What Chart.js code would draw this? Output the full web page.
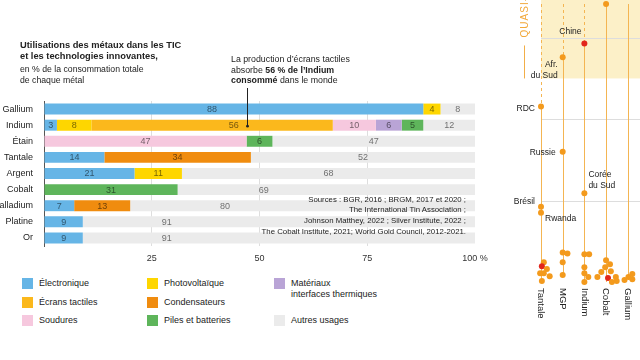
<!DOCTYPE html>
<html><head><meta charset="utf-8">
<script src="https://cdn.jsdelivr.net/npm/chart.js@4.4.1/dist/chart.umd.min.js"></script>
<style>
html,body{margin:0;padding:0;background:#fff;}
body{width:640px;height:360px;overflow:hidden;position:relative;font-family:"Liberation Sans",Arial,sans-serif;color:#222;}
canvas{position:absolute;}
#main{left:0;top:0;}
#side{left:500px;top:0;}
.t{position:absolute;white-space:nowrap;line-height:11px;}
.b{font-weight:bold;}
.sw{position:absolute;width:11px;height:11px;}
</style></head><body>
<canvas id="side" width="200" height="340"></canvas>
<canvas id="main" width="500" height="275"></canvas>
<div class="t b" style="left:20px;top:40px;font-size:9.3px">Utilisations des métaux dans les TIC</div>
<div class="t b" style="left:20px;top:51px;font-size:9.3px">et les technologies innovantes,</div>
<div class="t" style="left:20px;top:64px;font-size:8.7px">en % de la consommation totale</div>
<div class="t" style="left:20px;top:74.5px;font-size:8.7px">de chaque métal</div>
<div class="t" style="left:231px;top:54px;font-size:8.8px">La production d’écrans tactiles</div>
<div class="t" style="left:231px;top:64.5px;font-size:8.8px">absorbe <b>56 % de l’Indium</b></div>
<div class="t" style="left:231px;top:75px;font-size:8.8px"><b>consommé</b> dans le monde</div>
<div class="t" style="right:174px;top:194.5px;font-size:7.8px;text-align:right;line-height:10.8px">Sources : BGR, 2016 ; BRGM, 2017 et 2020 ;<br>The International Tin Association ;<br>Johnson Matthey, 2022 ; Silver Institute, 2022 ;<br>The Cobalt Institute, 2021; World Gold Council, 2012-2021.</div>
<div id="legend"></div>
<script>
// ---------- main chart data ----------
const metals = ['Gallium','Indium','Étain','Tantale','Argent','Cobalt','Palladium','Platine','Or'];
const seriesNames = ['Électronique','Photovoltaïque','Écrans tactiles','Condensateurs','Soudures','Matériaux\ninterfaces thermiques','Piles et batteries','Autres usages'];
const electronique   = [88, 3, null, 14, 21, null, 7, 9, 9];
const photovoltaique = [4, 8, null, null, 11, null, null, null, null];
const ecrans         = [null, 56, null, null, null, null, null, null, null];
const condensateurs  = [null, null, null, 34, null, null, 13, null, null];
const soudures       = [null, 10, 47, null, null, null, null, null, null];
const materiaux      = [null, 6, null, null, null, null, null, null, null];
const piles          = [null, 5, 6, null, null, 31, null, null, null];
const autres         = [8, 12, 47, 52, 68, 69, 80, 91, 91];
const xTicks = [0, 25, 50, 75, 100];

// ---------- side chart data ----------
const sideColumns = ['Tantale','MGP','Indium','Cobalt','Gallium'];
const countryNames = ['Chine','Afr.\ndu Sud','RDC','Russie','Corée\ndu Sud','Brésil','Rwanda','',''];
const countryCol   = [3, 2, 1, 2, 3, 1, 1, 4, 5];
const countryValue = [87.8, 82.8, 64.7, 48.1, 32.9, 28.0, 25.8, 102.3, 112];
const countryRed   = [1, 0, 0, 0, 0, 0, 0, 0, 0];
// [column position, value, red flag]
const tantaleDots = [[1.13,7.6,0],[1.04,6.1,1],[0.78,5.1,0],[1.27,5.1,0],[0.64,3.6,0],[0.96,3.6,0],[1.13,3.6,0],[1.40,2.5,0],[0.51,1.8,0],[1.04,0.7,0]];
const mgpDots     = [[2,11.2,0],[2.22,10.8,0],[2,7.6,0],[2,2.9,0]];
const indiumDots  = [[3,10.5,0],[3.22,10.5,0],[3,5.8,0],[3,3.6,0],[3.18,2.2,0],[3,0.4,0]];
const cobaltDots  = [[4,8.3,0],[4.18,6.9,0],[3.96,5.8,0],[4.22,4.3,0],[3.78,4.0,0],[4.45,2.2,0],[3.60,2.2,0],[4.09,1.8,1],[4.27,0.4,0],[4.49,0.7,0]];
const galliumDots = [[4.85,1.1,0],[5.03,2.2,0],[5.21,3.3,0],[5.21,1.4,0]];
const sideGridValues = [30, 60, 90];
const quasiThreshold = 75;

// ---------- styles / positions ----------
const seriesColors = ['#66b5e6','#fed600','#fbb81c','#f08c0f','#f6c8de','#b9a4d6','#5eb55b','#ebebeb'];
const seriesValues = [electronique, photovoltaique, ecrans, condensateurs, soudures, materiaux, piles, autres];
const labelAt = {'Électronique':{Gallium:39}, 'Écrans tactiles':{Indium:44}, 'Autres usages':{Cobalt:51, Palladium:42, Platine:28.5, Or:28.5}};
const annotValue = 47, annotMetal = 'Indium';
const legendLayout = [[0,2,4],[1,3,6],[5,null,7]];
const legendCols = [22,147,274], legendRows = [283,302,320];
const countryPlace = {
  'Chine':{dx:-14,dy:-12,align:'center'},
  'Afr.\ndu Sud':{dx:-5,dy:7,align:'right'},
  'RDC':{dx:-6,dy:2,align:'right'},
  'Russie':{dx:-7,dy:1,align:'right'},
  'Corée\ndu Sud':{dx:4,dy:-19,align:'left'},
  'Brésil':{dx:-6,dy:-5,align:'right'},
  'Rwanda':{dx:4,dy:6,align:'left'}
};
const FONT = 'Liberation Sans';

// legend
const leg = document.getElementById('legend');
legendLayout.forEach((col,ci)=>col.forEach((si,ri)=>{
  if(si===null) return;
  const sw = document.createElement('div');
  sw.className='sw'; sw.style.left=legendCols[ci]+'px'; sw.style.top=(legendRows[ri]-5.5)+'px'; sw.style.background=seriesColors[si];
  leg.appendChild(sw);
  const tx = document.createElement('div');
  tx.className='t'; tx.style.fontSize='9px'; tx.style.left=(legendCols[ci]+17)+'px'; tx.style.top=(legendRows[ri]-5.5)+'px';
  tx.innerHTML = seriesNames[si].replace('\n','<br>');
  leg.appendChild(tx);
}));

const valueLabels = {
  id:'valueLabels',
  afterDatasetsDraw(chart){
    const {ctx} = chart; const xs = chart.scales.x;
    ctx.save();
    ctx.font = '9px "'+FONT+'"'; ctx.textAlign='center'; ctx.textBaseline='middle';
    ctx.fillStyle='rgba(0,0,0,0.55)';
    chart.data.datasets.forEach((ds,di)=>{
      const meta = chart.getDatasetMeta(di);
      meta.data.forEach((bar,i)=>{
        const v = ds.data[i]; if(!v) return;
        let x = (bar.x+bar.base)/2;
        const ov = labelAt[ds.label] && labelAt[ds.label][metals[i]];
        if(ov!=null) x = xs.getPixelForValue(ov);
        ctx.fillText(String(v), x, bar.y+0.5);
      });
    });
    // annotation pointer
    const ax = Math.round(xs.getPixelForValue(annotValue))+0.5;
    const ay = chart.scales.y.getPixelForValue(metals.indexOf(annotMetal));
    ctx.strokeStyle='#222'; ctx.lineWidth=1;
    ctx.beginPath(); ctx.moveTo(ax,88); ctx.lineTo(ax,ay); ctx.stroke();
    ctx.fillStyle='#222'; ctx.beginPath(); ctx.arc(ax,ay+1,1.4,0,Math.PI*2); ctx.fill();
    ctx.restore();
  }
};

new Chart(document.getElementById('main'), {
  type:'bar',
  data:{labels:metals, datasets:seriesValues.map((d,i)=>({label:seriesNames[i].split('\n')[0]==='Matériaux'?'Matériaux':seriesNames[i], data:d, backgroundColor:seriesColors[i], borderWidth:0, barPercentage:0.68, categoryPercentage:1}))},
  options:{
    indexAxis:'y', responsive:false, animation:false,
    layout:{padding:{top:101,right:25,bottom:0,left:0}},
    plugins:{legend:{display:false}, tooltip:{enabled:false}},
    scales:{
      x:{stacked:true, min:0, max:100, afterBuildTicks:s=>{s.ticks=xTicks.map(v=>({value:v}));},
         border:{display:false},
         grid:{drawTicks:false, color:c=>[25,50,75].includes(c.tick&&c.tick.value)?'#dedede':'rgba(0,0,0,0)'},
         ticks:{padding:7, color:'#333', font:{family:FONT,size:9}, callback:v=>v===0?'':(v===100?'100 %':String(v))},
         afterFit:s=>{s.height=29;}},
      y:{stacked:true, border:{display:true,color:'#555',width:1},
         grid:{drawTicks:false, color:'rgba(0,0,0,0)'},
         ticks:{padding:11, color:'#222', font:{family:FONT,size:9}},
         afterFit:s=>{s.width=44;}}
    }
  },
  plugins:[valueLabels]
});

// ---------- side chart ----------
const allCols = [tantaleDots, mgpDots, indiumDots, cobaltDots, galliumDots];
const namedPts = countryNames.map((n,i)=>({x:countryCol[i], y:countryValue[i], red:countryRed[i]}));
const clusterPts = [].concat(...allCols).map(d=>({x:d[0], y:d[1], red:d[2]}));

const sidePlugin = {
  id:'sidePlugin',
  beforeDatasetsDraw(chart){
    const {ctx, chartArea:a, scales:{x,y}} = chart;
    ctx.save();
    const yq = y.getPixelForValue(quasiThreshold);
    ctx.fillStyle='#fcf0c8';
    ctx.fillRect(a.left, 0, a.right-a.left, yq);
    ctx.strokeStyle='#dddddd'; ctx.lineWidth=1;
    sideGridValues.forEach(v=>{const py=Math.round(y.getPixelForValue(v))+0.5; ctx.beginPath(); ctx.moveTo(a.left,py); ctx.lineTo(a.right,py); ctx.stroke();});
    // quasi marker
    const qx = a.left-17;
    ctx.strokeStyle='#f2ae48';
    ctx.beginPath(); ctx.moveTo(qx+0.5, yq-33); ctx.lineTo(qx+0.5, yq); ctx.stroke();
    ctx.save(); ctx.translate(qx+4, yq-41); ctx.rotate(-Math.PI/2);
    ctx.fillStyle='#f2a93b'; ctx.font='10px "'+FONT+'"'; ctx.textAlign='left'; ctx.textBaseline='alphabetic';
    try{ctx.letterSpacing='1px';}catch(e){}
    ctx.fillText('QUASI-MONOPOLE',0,0); ctx.restore();
    // column lines
    ctx.strokeStyle='#f4b552'; ctx.lineWidth=1;
    sideColumns.forEach((name,ci)=>{
      const col = ci+1;
      const vals = allCols[ci].map(d=>d[1]).concat(countryValue.filter((v,i)=>countryCol[i]===col));
      const px = Math.round(x.getPixelForValue(col))+0.5;
      const top = y.getPixelForValue(Math.max(...vals));
      const bot = y.getPixelForValue(Math.min(...vals));
      if(top>a.top){ctx.setLineDash([3,3]); ctx.beginPath(); ctx.moveTo(px,a.top); ctx.lineTo(px,top); ctx.stroke();}
      ctx.setLineDash([]); ctx.beginPath(); ctx.moveTo(px,Math.max(top,a.top)); ctx.lineTo(px,bot); ctx.stroke();
    });
    ctx.restore();
  },
  afterDatasetsDraw(chart){
    const {ctx, chartArea:a, scales:{x,y}} = chart;
    ctx.save();
    ctx.fillStyle='#222'; ctx.font='8.5px "'+FONT+'"'; ctx.textBaseline='middle';
    countryNames.forEach((n,i)=>{
      const p = countryPlace[n]; if(!p) return;
      const px = x.getPixelForValue(countryCol[i]), py = y.getPixelForValue(countryValue[i]);
      ctx.textAlign=p.align;
      n.split('\n').forEach((line,li)=>ctx.fillText(line, px+p.dx, py+p.dy+li*11));
    });
    ctx.font='9.5px "'+FONT+'"'; ctx.textAlign='left';
    sideColumns.forEach((name,ci)=>{
      ctx.save(); ctx.translate(x.getPixelForValue(ci+1), a.bottom+5); ctx.rotate(Math.PI/2);
      ctx.fillText(name,0,0); ctx.restore();
    });
    ctx.restore();
  }
};

new Chart(document.getElementById('side'), {
  type:'scatter',
  data:{datasets:[
    {data:clusterPts, pointRadius:3, pointBorderWidth:0, clip:false, backgroundColor:clusterPts.map(p=>p.red?'#e2261c':'#f39a1d')},
    {data:namedPts, pointRadius:3, pointBorderWidth:0, clip:false, backgroundColor:namedPts.map(p=>p.red?'#e2261c':'#f39a1d')}
  ]},
  options:{
    responsive:false, animation:false,
    layout:{padding:{top:0,right:0,bottom:57,left:41}},
    plugins:{legend:{display:false}, tooltip:{enabled:false}},
    scales:{x:{type:'linear', display:false, min:1, max:8.146}, y:{type:'linear', display:false, min:0, max:102.3}}
  },
  plugins:[sidePlugin]
});
</script>
</body></html>
